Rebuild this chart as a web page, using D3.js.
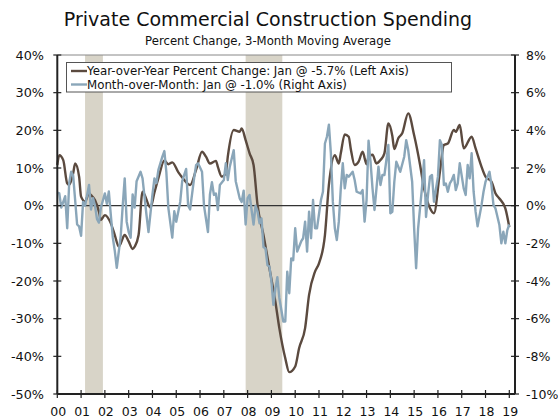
<!DOCTYPE html>
<html>
<head>
<meta charset="utf-8">
<script src="https://cdn.jsdelivr.net/npm/d3@7"></script>
<style>
  body { margin: 0; background: #fff; }
  text { font-family: "DejaVu Sans", Verdana, sans-serif; fill: #111; }
</style>
</head>
<body>
<script>
// months counted from Jan 2000
const yoyMonth = [0,1,3,5,6,8,9,11,12,14,16,17,19,21,22,24,27,29,31,32,34,36,38,39,41,43,47,49,51,54,56,58,61,63,67,70,73,75,77,80,81,83,85,86,89,92,93,95,97,99,101,104,107,110,112,115,117,120,122,125,127,130,132,135,137,140,142,143,145,147,148,150,152,154,156,157,159,161,163,165,167,169,170,172,174,177,180,183,185,188,190,193,195,197,200,201,203,205,209,211,214,216,219,221,223,226,228];
const yoyValue = [10.8,13.4,12.1,5.9,5.5,8.6,11.2,7.7,2.4,1.1,3.3,2.8,1.5,-1.6,-3.8,-2.5,-4.7,-7.8,-10.9,-10,-7.8,-9.5,-11.5,-10.9,-7.8,3.7,-0.5,3.5,7.3,12.0,11.0,11.5,8.9,7.5,5.5,9.5,14.3,13.0,11.2,11.9,10.3,7.7,8.5,13.0,20.1,19.6,20.5,17.4,13.9,10.8,0.2,-7.8,-16.6,-25.5,-32.5,-40.5,-44.2,-42.7,-37.8,-32.5,-23.7,-17.5,-15.3,-7.8,5.5,13.4,11.2,13.9,18.9,18.3,15.2,10.8,11.7,14.3,11.0,13.0,13.5,11.2,12.1,13.9,21.8,18.5,15.0,17.9,19.2,24.5,18.7,10.8,4.6,-0.7,-2.0,9.0,16.1,16.5,20.1,19.6,21.4,15.2,18.3,15.2,10.3,7.7,6.4,3.3,1.9,-0.7,-5.7];

const momMonth = [0,1,2,4,5,6,7,8,10,11,12,13,14,16,17,18,19,20,21,22,24,25,26,27,28,29,30,32,33,34,35,36,37,38,39,40,42,43,45,46,48,49,50,51,53,54,55,56,58,59,60,62,63,65,66,67,69,70,71,73,74,76,77,78,79,80,81,82,84,85,86,87,89,90,92,93,94,95,96,97,98,99,100,101,102,103,104,105,106,107,108,109,110,111,112,114,115,116,117,118,119,120,121,123,124,125,126,127,128,129,130,131,133,134,135,136,137,138,139,140,141,142,143,144,145,146,147,149,150,151,153,154,155,156,157,158,159,160,161,162,163,164,165,167,168,169,170,171,173,175,176,177,179,180,181,182,184,185,186,187,188,189,190,192,193,194,195,196,197,198,199,200,201,202,203,205,206,207,208,209,210,211,212,214,215,216,218,219,220,221,223,224,225,226,227,228];
const momValue = [0.7,0.65,-0.1,0.5,-1.2,1.2,1.8,1.6,-1.0,-1.1,-1.6,0.2,0.0,1.1,-0.2,0.4,0.0,-0.7,-0.9,-0.1,0.65,0.1,0.75,-0.5,-1.7,-2.4,-3.3,-1.6,0.0,1.45,-0.85,-1.4,-1.7,0.6,-0.1,1.3,1.8,1.45,-0.5,-1.4,0.6,1.45,1.2,1.9,2.6,2.9,1.8,-0.1,-1.7,-0.3,-0.85,0.2,1.3,1.95,0.0,-0.2,1.45,2.15,2.25,1.8,0.0,-1.4,0.6,1.25,0.57,0.65,-0.23,1.1,1.36,2.25,1.36,2.07,2.95,1.3,0.39,0.2,0.8,-1.0,0.4,0.57,-0.23,-1.0,0.0,-0.3,-0.94,-0.67,-2.2,-2.26,-3.15,-3.24,-4.0,-5.27,-4.4,-3.8,-4.9,-6.15,-6.15,-3.5,-4.65,-2.8,-2.9,-1.2,-2.44,-1.9,-1.73,-0.85,-2.44,-0.32,-1.73,0.3,-1.2,-1.2,0.3,0.74,3.3,3.66,4.3,2.78,0.2,-1.2,-1.82,-0.85,0.92,2.25,0.92,1.63,1.54,1.8,1.36,0.74,0.65,0.83,-0.85,0.3,3.45,2.33,0.92,-0.23,0.92,2.07,1.1,1.63,1.63,3.22,-0.4,-0.32,1.27,2.33,1.8,2.6,3.48,2.95,1.27,-1.2,-3.32,-1.2,1.0,2.42,-0.6,0.57,1.54,1.63,0.21,1.54,3.48,3.22,1.1,1.18,0.74,1.18,1.36,1.63,0.83,1.18,2.25,0.92,0.57,2.16,1.45,2.78,0.74,-0.32,-1.1,0.04,0.74,1.27,1.8,1.1,0.04,-0.14,-1.03,-2.0,-1.38,-2.0,-1.3,-1.0];

// recessions [start, end] in months from Jan 2000
const recessions = [[14, 23], [95, 113.5]];

const leftTicks = [40, 30, 20, 10, 0, -10, -20, -30, -40, -50];
const rightTicks = [8, 6, 4, 2, 0, -2, -4, -6, -8, -10];
const yearLabels = ["00","01","02","03","04","05","06","07","08","09","10","11","12","13","14","15","16","17","18","19"];

const legendLabels = [
  "Year-over-Year Percent Change: Jan @ -5.7% (Left Axis)",
  "Month-over-Month: Jan @ -1.0% (Right Axis)"
];
const colYoY = "#5b4a3f", colMoM = "#8aa6b9";

const W = 558, H = 420;
const plot = {left: 57.3, right: 515, top: 55, bottom: 394};

const svg = d3.select("body").append("svg")
  .attr("width", W).attr("height", H);

const x = d3.scaleLinear().domain([0, 228]).range([plot.left, 509.3]);
const yL = d3.scaleLinear().domain([-50, 40]).range([plot.bottom, plot.top]);
const yR = d3.scaleLinear().domain([-10, 8]).range([plot.bottom, plot.top]);

// title
svg.append("text").attr("x", 268).attr("y", 26).attr("text-anchor", "middle")
  .style("font-size", "19px").text("Private Commercial Construction Spending");
svg.append("text").attr("x", 268).attr("y", 45).attr("text-anchor", "middle")
  .style("font-size", "11.7px").text("Percent Change, 3-Month Moving Average");

// recession bands
svg.append("g").selectAll("rect").data(recessions).enter().append("rect")
  .attr("x", d => x(d[0]))
  .attr("width", d => x(d[1]) - x(d[0]))
  .attr("y", plot.top).attr("height", plot.bottom - plot.top)
  .attr("fill", "#d8d4c8");

// top border
svg.append("line").attr("x1", plot.left).attr("x2", plot.right)
  .attr("y1", plot.top).attr("y2", plot.top)
  .attr("stroke", "#888").attr("stroke-width", 1);

// zero line
svg.append("line").attr("x1", plot.left).attr("x2", plot.right)
  .attr("y1", yL(0)).attr("y2", yL(0))
  .attr("stroke", "#333").attr("stroke-width", 1.2);

const momData = momMonth.map((m, i) => ({m: m, v: momValue[i]}));
const yoyData = yoyMonth.map((m, i) => ({m: m, v: yoyValue[i]}));

svg.append("path").datum(yoyData)
  .attr("fill", "none").attr("stroke", colYoY).attr("stroke-width", 2.4)
  .attr("stroke-linejoin", "round")
  .attr("d", d3.line().x(d => x(d.m)).y(d => yL(d.v)).curve(d3.curveMonotoneX));

svg.append("path").datum(momData)
  .attr("fill", "none").attr("stroke", colMoM).attr("stroke-width", 2.4)
  .attr("stroke-linejoin", "round")
  .attr("d", d3.line().x(d => x(d.m)).y(d => yR(d.v)));

// axes
const axisCol = "#222";
svg.append("line").attr("x1", plot.left).attr("x2", plot.left)
  .attr("y1", plot.top).attr("y2", plot.bottom).attr("stroke", axisCol).attr("stroke-width", 2);
svg.append("line").attr("x1", plot.right).attr("x2", plot.right)
  .attr("y1", plot.top).attr("y2", plot.bottom).attr("stroke", axisCol).attr("stroke-width", 2);
svg.append("line").attr("x1", plot.left).attr("x2", plot.right)
  .attr("y1", plot.bottom).attr("y2", plot.bottom).attr("stroke", axisCol).attr("stroke-width", 2);

const gl = svg.append("g");
leftTicks.forEach(t => {
  gl.append("line").attr("x1", plot.left - 4).attr("x2", plot.left + 4)
    .attr("y1", yL(t)).attr("y2", yL(t)).attr("stroke", axisCol).attr("stroke-width", 1.2);
  gl.append("text").attr("x", 44).attr("y", yL(t)).attr("dy", "0.36em")
    .attr("text-anchor", "end").style("font-size", "12.8px").text(t + "%");
});
rightTicks.forEach(t => {
  gl.append("line").attr("x1", plot.right - 4).attr("x2", plot.right + 4)
    .attr("y1", yR(t)).attr("y2", yR(t)).attr("stroke", axisCol).attr("stroke-width", 1.2);
  gl.append("text").attr("x", 526).attr("y", yR(t)).attr("dy", "0.36em")
    .attr("text-anchor", "start").style("font-size", "12.5px").text(t + "%");
});
yearLabels.forEach((lab, i) => {
  const px = x(i * 12);
  gl.append("line").attr("x1", px).attr("x2", px)
    .attr("y1", plot.bottom - 4).attr("y2", plot.bottom + 4).attr("stroke", axisCol).attr("stroke-width", 1.2);
  gl.append("text").attr("x", px + 1).attr("y", 416)
    .attr("text-anchor", "middle").style("font-size", "12.5px").text(lab);
});

// legend
const lg = svg.append("g");
lg.append("rect").attr("x", 66.5).attr("y", 62.5).attr("width", 385).attr("height", 29.5)
  .attr("fill", "#fff").attr("stroke", "#555").attr("stroke-width", 1);
[[colYoY, legendLabels[0]], [colMoM, legendLabels[1]]].forEach((d, i) => {
  const ly = 71 + i * 13.5;
  lg.append("line").attr("x1", 71).attr("x2", 87).attr("y1", ly).attr("y2", ly)
    .attr("stroke", d[0]).attr("stroke-width", 2.4);
  lg.append("text").attr("x", 87).attr("y", ly).attr("dy", "0.36em")
    .style("font-size", "11.8px").text(d[1]);
});
</script>
</body>
</html>
